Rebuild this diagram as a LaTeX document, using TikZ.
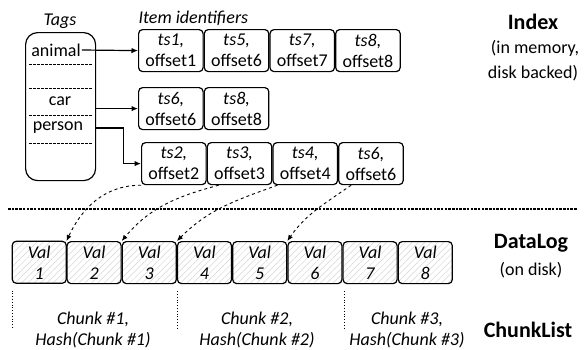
\documentclass[tikz,border=0pt]{standalone}
\usepackage{fontspec}
\setmainfont{Carlito}
\usetikzlibrary{arrows.meta,patterns.meta,calc}
\begin{document}
\begin{tikzpicture}[x=1pt,y=-1pt,
  font=\fontsize{18}{21}\selectfont,
  idbox/.style={draw,line width=1.2pt,rounded corners=4pt,minimum width=64.5pt,
    minimum height=42pt,inner sep=0pt,align=center,anchor=north west},
  valbox/.style={draw,line width=1.2pt,rounded corners=4pt,minimum width=54pt,
    minimum height=42pt,inner sep=0pt,align=center,anchor=north west,
    pattern={Lines[angle=45,distance=4.5pt,line width=0.5pt]},pattern color=black!17},
  arr/.style={line width=1.2pt,-{Latex[length=6.5pt,width=5.5pt]}},
  ptr/.style={dashed,line width=0.9pt,-{Latex[length=6pt,width=5pt]}},
  sep/.style={dotted,line width=0.8pt},
  head/.style={font=\fontsize{22}{24}\selectfont\bfseries},
]
\useasboundingbox (0,0) rectangle (584,349);

% Tag table
\node[draw,line width=1.2pt,rounded corners=12pt,minimum width=70pt,minimum height=148pt,
      inner sep=0pt,anchor=north west] (tags) at (25,32) {};
\node (ltags) at (60,21) {\itshape Tags};
\node[inner sep=1pt] (lanimal) at (56,50) {animal};
\node (lcar) at (60,101) {car};
\node (lperson) at (58,128) {person};
\foreach \yy in {64,88,115,143}
  \draw[dash pattern=on 2.5pt off 1.5pt,line width=1pt] (29,\yy) -- (92,\yy);

% Item identifier rows
\node[anchor=west] (litems) at (135,18) {\itshape Item identifiers};
\node[idbox] (r1a) at (138,29) {\textit{ts1,}\\offset1};
\node[idbox] (r1b) at (r1a.north east) {\textit{ts5,}\\offset6};
\node[idbox] (r1c) at (r1b.north east) {\textit{ts7,}\\offset7};
\node[idbox] (r1d) at (r1c.north east) {\textit{ts8,}\\offset8};

\node[idbox] (r2a) at (138,87) {\textit{ts6,}\\offset6};
\node[idbox] (r2b) at (r2a.north east) {\textit{ts8,}\\offset8};

\node[idbox] (r3a) at (141,142) {\textit{ts2,}\\offset2};
\node[idbox] (r3b) at (r3a.north east) {\textit{ts3,}\\offset3};
\node[idbox] (r3c) at (r3b.north east) {\textit{ts4,}\\offset4};
\node[idbox] (r3d) at (r3c.north east) {\textit{ts6,}\\offset6};

% Tag -> row connectors
\draw[arr] (lanimal.east) -- (r1a.west);
\draw[arr] (tags.east |- r2a.west) -- (r2a.west);
\coordinate (pout) at (tags.east |- lperson);
\draw[arr] (pout) -- ++(27,0) |- (r3a.west);

% Memory / disk boundary
\coordinate (sepL) at (8,209);
\coordinate (sepR) at (577,209);
\draw[dash pattern=on 2.5pt off 1.2pt,line width=1.2pt] (sepL) -- (sepR);

% Data log
\node[valbox] (v1) at (12,241) {\textit{Val}\\\textit{1}};
\foreach \i [count=\p from 1] in {2,...,8}
  \node[valbox] (v\i) at (v\p.north east) {\textit{Val}\\\textit{\i}};

% Offset pointers
\draw[ptr] (r3a.south west) to[out=180,in=65] (v1.north east);
\draw[ptr] ($(r3b.south west)+(12,0)$) to[out=195,in=50] (v2.north east);
\draw[ptr] ($(r3c.south west)+(5,0)$) to[out=200,in=45] (v3.north east);
\draw[ptr] ($(r3d.south west)+(13,0)$) to[out=215,in=55] (v5.north east);

% Chunk boundaries
\foreach \v in {1,4}
  \draw[sep] ($(v\v.south west)+(0,7)$) -- ++(0,38);
\draw[sep] ($(v6.south east)+(2,7)$) -- ++(0,38);
\node[align=center] (c1) at (93,329.5) {\textit{Chunk \#1,}\\\textit{Hash(Chunk \#1)}};
\node[align=center] (c2) at (257,329.5) {\textit{Chunk \#2,}\\\textit{Hash(Chunk \#2)}};
\node[align=center] (c3) at (407,329.5) {\textit{Chunk \#3,}\\\textit{Hash(Chunk \#3)}};

% Layer names
\node[head] (hindex) at (533,22) {Index};
\node (hindex2) at (535,48) {(in memory,};
\node (hindex3) at (533,73) {disk backed)};
\node[head] (hlog) at (531,243) {DataLog};
\node (hlog2) at (531,270) {(on disk)};
\node[head] (hchunk) at (528,330) {ChunkList};
\end{tikzpicture}
\end{document}
